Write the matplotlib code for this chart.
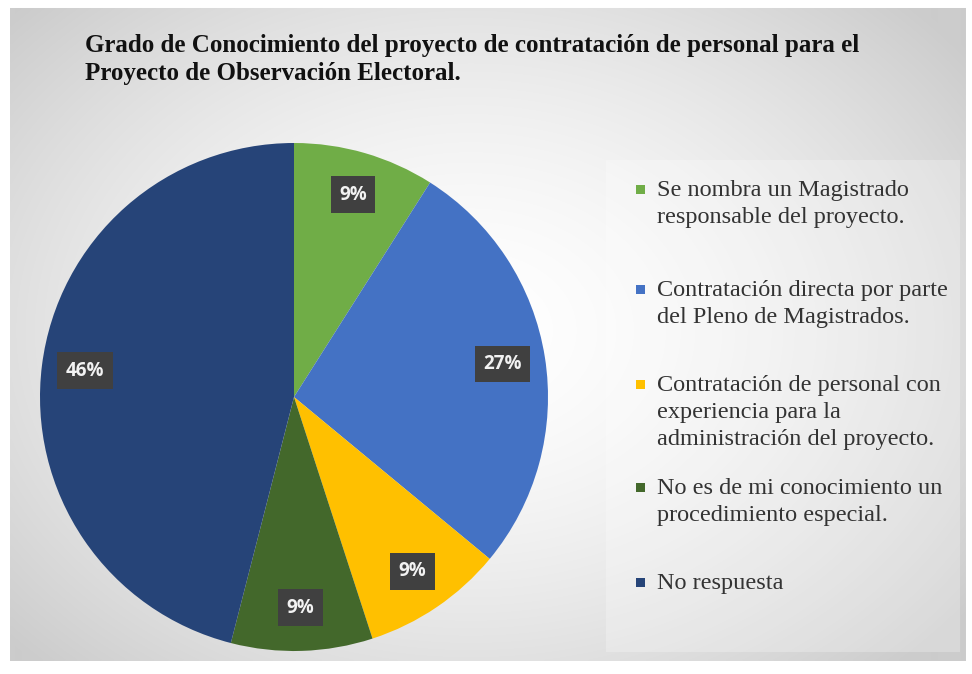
import numpy as np
import matplotlib
matplotlib.use("Agg")
import matplotlib.pyplot as plt
from matplotlib.patches import Rectangle

# data
categories = [
    "Se nombra un Magistrado\nresponsable del proyecto.",
    "Contratación directa por parte\ndel Pleno de Magistrados.",
    "Contratación de personal con\nexperiencia para la\nadministración del proyecto.",
    "No es de mi conocimiento un\nprocedimiento especial.",
    "No respuesta",
]
percent = [9, 27, 9, 9, 46]
colors = ["#70AD47", "#4472C4", "#FFC000", "#43682B", "#264478"]
title = ("Grado de Conocimiento del proyecto de contratación de personal para el\n"
         "Proyecto de Observación Electoral.")

W, H = 972, 674
fig = plt.figure(figsize=(W / 100, H / 100), dpi=100)

# background: white border and a soft radial gradient panel
bg = fig.add_axes([0, 0, 1, 1])
bg.set_xlim(0, W)
bg.set_ylim(H, 0)
bg.axis("off")
yy, xx = np.mgrid[0:H, 0:W]
d = np.sqrt(((xx - 470) / 560.0) ** 2 + ((yy - 330) / 420.0) ** 2)
shade = np.clip(1.0 - 0.17 * d ** 1.6, 0.8, 1.0)
img = np.ones((H, W, 3))
panel = (xx >= 10) & (xx <= 964) & (yy >= 8) & (yy <= 660)
for c in range(3):
    img[..., c] = np.where(panel, shade, 1.0)
bg.imshow(img, extent=(0, W, H, 0), interpolation="bilinear")
# legend panel, a bit lighter
bg.add_patch(Rectangle((606, 160), 354, 492, fc="white", ec="none", alpha=0.25))

# title
fig.text(85 / W, 1 - 34 / H, title, ha="left", va="top",
         family="Liberation Serif", fontweight="bold", fontsize=18,
         color="#111111", linespacing=1.3)

# pie
cx, cy, r = 294, 397, 254
ax = fig.add_axes([(cx - r) / W, 1 - (cy + r) / H, 2 * r / W, 2 * r / H])
wedges, _, autotexts = ax.pie(
    percent, colors=colors, startangle=90, counterclock=False,
    autopct=lambda p: "%d%%" % round(p), pctdistance=0.83,
    wedgeprops=dict(linewidth=0),
    textprops=dict(color="#f2f2f2", fontweight="bold", fontsize=13.5,
                   family="Open Sans"))
for t in autotexts:
    t.set_bbox(dict(boxstyle="square,pad=0.45", fc="#404040", ec="none"))
ax.set_xlim(-1, 1)
ax.set_ylim(-1, 1)
ax.set_aspect("equal")

# legend, placed like the original
leg_y = [190, 290, 385, 488, 583]
for w, lab, y in zip(wedges, categories, leg_y):
    bg.add_patch(Rectangle((636, y - 5), 9, 9, fc=w.get_facecolor(), ec="none"))
    bg.text(657, y - 10, lab, ha="left", va="top", family="Liberation Serif",
            fontsize=17.5, color="#333333", linespacing=1.38)

fig.savefig("out.png", dpi=100)
